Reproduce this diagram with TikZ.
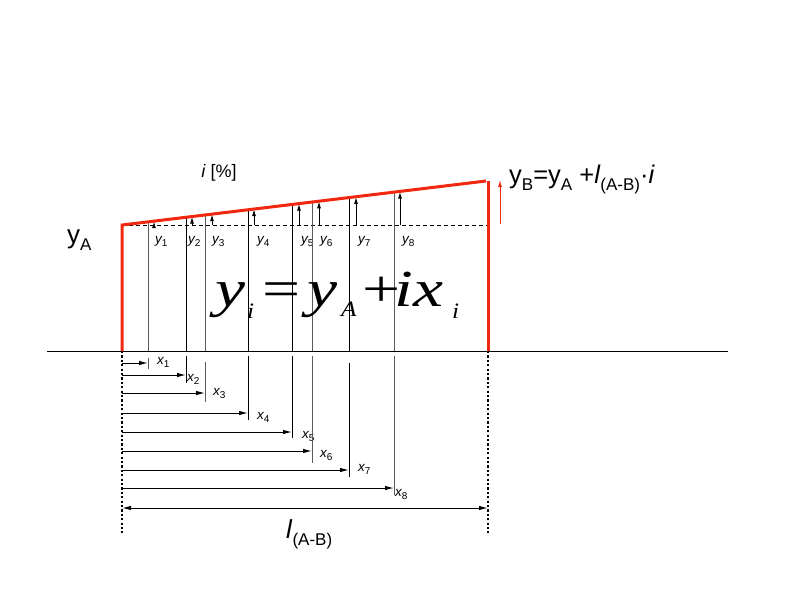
\documentclass[tikz,border=0pt]{standalone}
\usepackage{fontspec}
\setmainfont{Liberation Sans}
\newfontfamily\eqfont{Liberation Serif}
\usetikzlibrary{arrows.meta}
\definecolor{rd}{RGB}{240,40,15}
\definecolor{gl}{RGB}{90,90,90}
\newcommand\smlab[2]{{\fontsize{13.5}{13.5}\selectfont\itshape #1}\raisebox{-3pt}{\fontsize{10}{10}\selectfont #2}}
\newcommand\bigsub[1]{\raisebox{-0.28em}{\fontsize{17}{17}\selectfont #1}}
\newcommand\eqmain[1]{\scalebox{1.3}[1]{\eqfont\fontsize{52}{52}\selectfont\itshape #1}}
\newcommand\eqsub[1]{\scalebox{1.15}[1]{\eqfont\fontsize{22}{22}\selectfont\itshape #1}}
\begin{document}
\begin{tikzpicture}[x=1pt,y=-1pt,
  redl/.style={draw=rd,line width=3pt},
  vline/.style={line width=1pt},
  xarr/.style={-{Latex[length=9pt,width=4.5pt]},line width=1pt},
  yarr/.style={-{Latex[length=7pt,width=4pt]},line width=1pt},
  dotl/.style={line width=2.2pt,dash pattern=on 2.2pt off 2.2pt},
  lab/.style={inner sep=0pt,anchor=base west}]
\useasboundingbox (0,0) rectangle (800,600);
% main points
\coordinate (G0) at (47,351);
\coordinate (G1) at (728,351);
\coordinate (A0) at (122,351);
\coordinate (A1) at (122,225);
\coordinate (B1) at (486,181);
\coordinate (B2) at (488,181);
\coordinate (B0) at (488,351);
\coordinate (D1) at (488,225);
\coordinate (A2) at (122,533);
\coordinate (B3) at (488,533);
\coordinate (LA) at (122,508);
\coordinate (LB) at (488,508);
\coordinate (R0) at (500,224);
\coordinate (R1) at (500,180);
% ground line
\draw[line width=1pt] (G0) -- (G1);
% dashed reference
\draw[line width=0.8pt,dash pattern=on 4pt off 3pt] (A1) -- (D1);
% verticals, arrows and labels
\foreach \i/\x/\col/\tp/\ls/\le/\ay/\yx/\yt/\ylx/\xlx/\xly in {
  1/148/gl/222/358/369/363/154/221.2/155/157/364,
  2/186/black/217.3/356/383/375/192/216.6/188/187/381,
  3/205/gl/215/362/402/393/212/214.2/212/213/395,
  4/248/black/209.9/356/420/413/254/209.1/257/257/419,
  5/292/black/204.6/356/438/432/299/203.7/301/302/438,
  6/312/gl/202.2/356/463/451/319/201.3/320/320/457,
  7/349/black/197.7/363/477/470/356/196.9/358/358/471,
  8/394/gl/192.3/356/495/488/400/191.6/402/395/496}{
  \coordinate (t\i) at (\x,\tp);
  \coordinate (g\i) at (\x,351);
  \coordinate (u\i) at (\x,\ls);
  \coordinate (v\i) at (\x,\le);
  \coordinate (s\i) at (122,\ay);
  \coordinate (e\i) at (\x,\ay);
  \coordinate (p\i) at (\yx,225);
  \coordinate (q\i) at (\yx,\yt);
  \draw[vline,draw=\col] (t\i) -- (g\i);
  \draw[vline,draw=\col] (u\i) -- (v\i);
  \draw[xarr] (s\i) -- (e\i);
  \draw[yarr] (p\i) -- (q\i);
  \node[lab] (yl\i) at (\ylx,243) {\smlab{y}{\i}};
  \node[lab] (xl\i) at (\xlx,\xly) {\smlab{x}{\i}};
}
% total length
\draw[{Latex[length=9pt,width=4.5pt]}-{Latex[length=9pt,width=4.5pt]},line width=1pt] (LA) -- (LB);
% dotted verticals
\draw[dotl] (A0) -- (A2);
\draw[dotl] (B0) -- (B3);
% red profile
\draw[redl,line join=miter] (A0) -- (A1) -- (B1);
\draw[redl] (B2) -- (B0);
\draw[draw=rd,line width=1pt,-{Latex[length=7pt,width=4pt]}] (R0) -- (R1);
% formula
\node[lab] (f1) at (215,306) {\eqmain{y}};
\node[lab] (f2) at (247,318) {\eqsub{i}};
\node[lab] (f3) at (262,306) {\scalebox{1.3}[1]{\eqfont\fontsize{52}{52}\selectfont =}};
\node[lab] (f4) at (307,306) {\eqmain{y}};
\node[lab] (f5) at (341,316) {\eqsub{A}};
\node[lab] (f6) at (362,306) {\scalebox{1.3}[1]{\eqfont\fontsize{52}{52}\selectfont +}};
\node[lab] (f7) at (394,306) {\eqmain{i}};
\node[lab] (f8) at (413,306) {\eqmain{x}};
\node[lab] (f9) at (452,318) {\eqsub{i}};
% texts
\node[inner sep=0pt] (ip) at (219,173) {\fontsize{18}{18}\selectfont\textit{i} [\%]};
\node[lab] (ya) at (67,243) {\fontsize{26}{26}\selectfont y\bigsub{A}};
\node[lab] (yb) at (509,183) {\fontsize{25.5}{25.5}\selectfont y\bigsub{B}=y\bigsub{A} +\textit{l}\bigsub{(A-B)}·\textit{i}};
\node[lab] (lab) at (286,538) {\fontsize{26}{26}\selectfont\textit{l}\bigsub{(A-B)}};
\end{tikzpicture}
\end{document}
